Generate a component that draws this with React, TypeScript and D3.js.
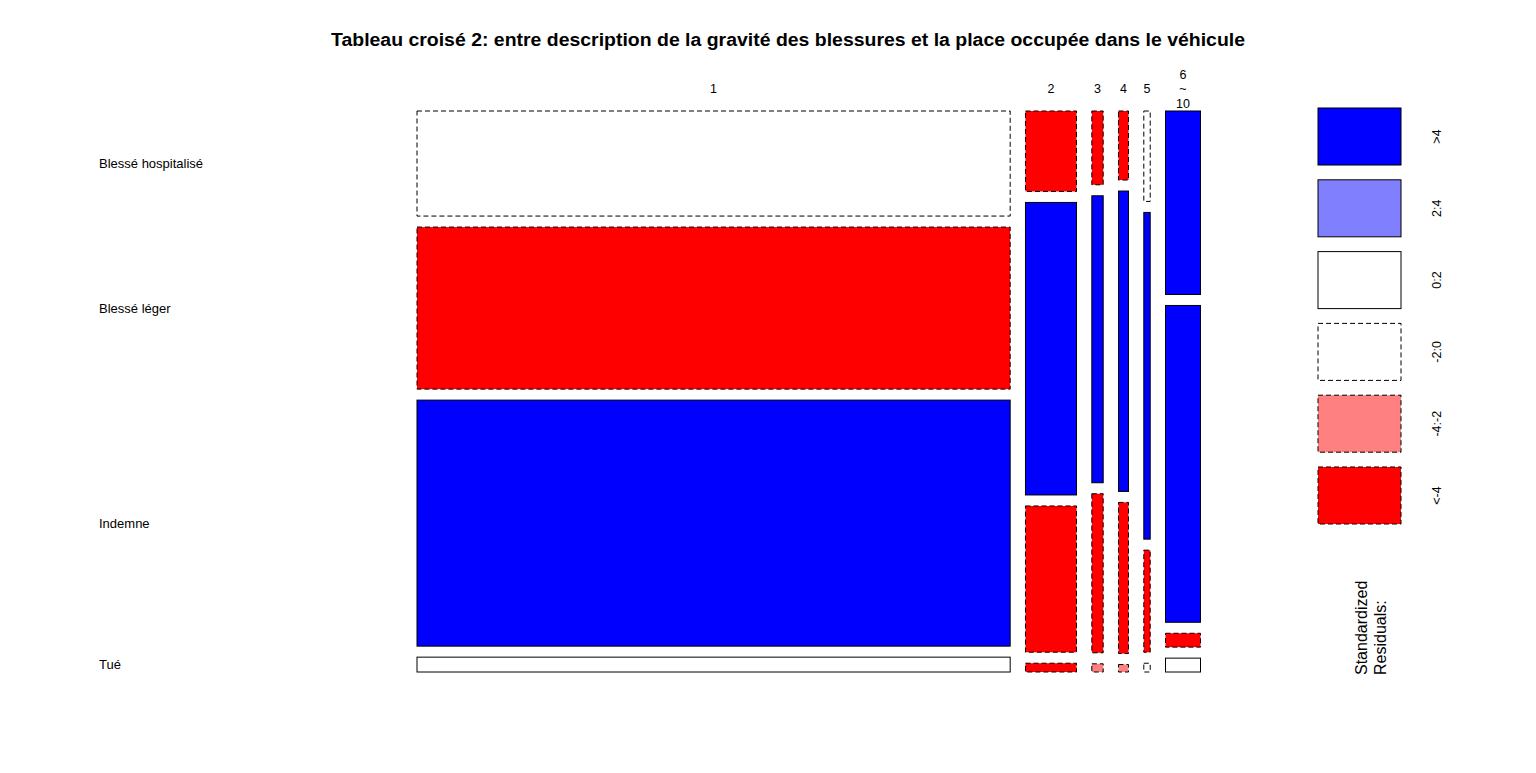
import React from 'react';
import * as d3 from 'd3';

// place occupée (columns) and gravité (rows)
const places = ['1', '2', '3', '4', '5', '6~10'];
const gravites = ['Blessé hospitalisé', 'Blessé léger', 'Indemne', 'Tué'];

// counts per place, one array per gravité (same order as places)
const hospitalise = [3339, 220, 45, 37, 31, 344];
const leger = [5150, 800, 175, 161, 112, 594];
const indemne = [7819, 400, 97, 81, 35, 26];
const tue = [472, 24, 5, 4, 3, 26];

// standardized residuals, read from the shading
const resHospitalise = [-1, -8, -5, -5, -1, 10];
const resLeger = [-8, 8, 5, 6, 5, 8];
const resIndemne = [8, -8, -5, -5, -5, -20];
const resTue = [1, -5, -3, -3, -1, 1];

const legendLabels = ['>4', '2:4', '0:2', '-2:0', '-4:-2', '<-4'];
const legendRes = [5, 3, 1, -1, -3, -5];

const W = 1536;
const H = 773;
const FONT = '"Liberation Sans", Arial, sans-serif';

const plot = { x0: 417, x1: 1200.5, y0: 111, y1: 672 };
const gapX = 15.3;
const gapY = 11;

const shade = (r: number) => {
  if (r > 4) return { fill: '#0000FF', dash: null };
  if (r > 2) return { fill: '#8080FF', dash: null };
  if (r > 0) return { fill: '#FFFFFF', dash: null };
  if (r > -2) return { fill: '#FFFFFF', dash: '5,3' };
  if (r > -4) return { fill: '#FF8080', dash: '5,3' };
  return { fill: '#FF0000', dash: '5,3' };
};

export default function App() {
  const counts = [hospitalise, leger, indemne, tue];
  const resid = [resHospitalise, resLeger, resIndemne, resTue];
  const colTotals = places.map((_, j) => d3.sum(counts, (row) => row[j]));
  const total = d3.sum(colTotals);

  const availW = plot.x1 - plot.x0 - gapX * (places.length - 1);
  const xw = d3.scaleLinear().domain([0, total]).range([0, availW]);
  const availH = plot.y1 - plot.y0 - gapY * (gravites.length - 1);

  const cols: { x: number; w: number; cells: { y: number; h: number; r: number }[] }[] = [];
  let cx = plot.x0;
  places.forEach((_, j) => {
    const w = xw(colTotals[j]);
    const yh = d3.scaleLinear().domain([0, colTotals[j]]).range([0, availH]);
    let cy = plot.y0;
    const cells = gravites.map((_, i) => {
      const h = yh(counts[i][j]);
      const c = { y: cy, h, r: resid[i][j] };
      cy += h + gapY;
      return c;
    });
    cols.push({ x: cx, w, cells });
    cx += w + gapX;
  });

  const legendY = d3.scaleBand().domain(legendLabels).range([108, 524]).paddingInner(0.206).paddingOuter(0);

  return (
    <svg width={W} height={H} style={{ position: 'absolute', left: 0, top: 0, background: '#fff' }} fontFamily={FONT}>
      <rect x={0} y={0} width={W} height={H} fill="#fff" />
      <text x={788} y={46} textAnchor="middle" fontSize={18} fontWeight="bold" textLength={914} lengthAdjust="spacingAndGlyphs">
        Tableau croisé 2: entre description de la gravité des blessures et la place occupée dans le véhicule
      </text>

      {/* column labels */}
      {places.map((p, j) => {
        const lines = p.includes('~') ? [p.split('~')[0], '~', p.split('~')[1]] : [p];
        const mx = cols[j].x + cols[j].w / 2;
        const startY = 93 - ((lines.length - 1) * 14.5) / 2;
        return (
          <text key={p} x={mx} textAnchor="middle" fontSize={12.5}>
            {lines.map((l, k) => (
              <tspan key={k} x={mx} y={startY + k * 14.5}>{l}</tspan>
            ))}
          </text>
        );
      })}

      {/* row labels, at the first column's cells */}
      {gravites.map((g, i) => {
        const c = cols[0].cells[i];
        return (
          <text key={g} x={99} y={c.y + c.h / 2 + 4.5} fontSize={13}>{g}</text>
        );
      })}

      {/* tiles */}
      {cols.map((col, j) =>
        col.cells.map((c, i) => {
          const s = shade(c.r);
          return (
            <rect
              key={`${j}-${i}`}
              x={col.x}
              y={c.y}
              width={col.w}
              height={c.h}
              fill={s.fill}
              stroke="#000"
              strokeWidth={1}
              strokeDasharray={s.dash ?? undefined}
            />
          );
        })
      )}

      {/* legend */}
      {legendLabels.map((l, k) => {
        const s = shade(legendRes[k]);
        const y = legendY(l) as number;
        const h = legendY.bandwidth();
        return (
          <g key={l}>
            <rect x={1318} y={y} width={83} height={h} fill={s.fill} stroke="#000" strokeWidth={1}
              strokeDasharray={s.dash ?? undefined} />
            <text transform={`translate(1441,${y + h / 2}) rotate(-90)`} textAnchor="middle" fontSize={12.5}>{l}</text>
          </g>
        );
      })}
      <text transform="translate(1367,675) rotate(-90)" fontSize={16}>Standardized</text>
      <text transform="translate(1386,675) rotate(-90)" fontSize={16}>Residuals:</text>
    </svg>
  );
}
